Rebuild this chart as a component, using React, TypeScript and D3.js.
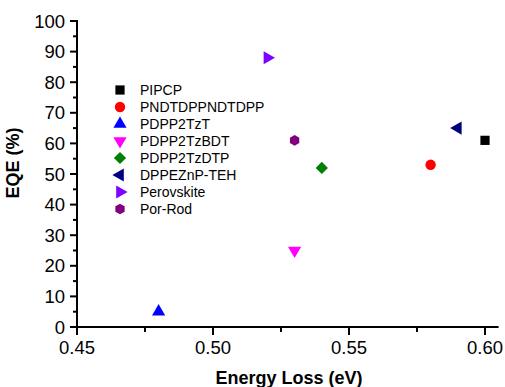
import * as d3 from "d3";

const names = [
  "PIPCP",
  "PNDTDPPNDTDPP",
  "PDPP2TzT",
  "PDPP2TzBDT",
  "PDPP2TzDTP",
  "DPPEZnP-TEH",
  "Perovskite",
  "Por-Rod",
];
const energyLoss = [0.6, 0.58, 0.48, 0.53, 0.54, 0.59, 0.52, 0.53];
const eqe = [61, 53, 5, 25, 52, 65, 88, 61];
const colors = ["#000000", "#ff0000", "#0000ff", "#ff00ff", "#008000", "#000080", "#8000ff", "#800080"];
const shapes = ["square", "circle", "up", "down", "diamond", "left", "right", "hexagon"];
const xTicks = [0.45, 0.5, 0.55, 0.6];
const yTicks = [0, 10, 20, 30, 40, 50, 60, 70, 80, 90, 100];

const hexagon = {
  draw(context: any, size: number) {
    const r = Math.sqrt((size * 2) / (3 * Math.sqrt(3)));
    for (let i = 0; i < 6; i++) {
      const a = (Math.PI / 3) * i + Math.PI / 6;
      const px = r * Math.cos(a);
      const py = r * Math.sin(a);
      if (i === 0) context.moveTo(px, py);
      else context.lineTo(px, py);
    }
    context.closePath();
  },
};

function markerPath(shape: string) {
  const sym = d3.symbol().size(shape === "circle" ? 85 : shape === "square" ? 85 : 75);
  if (shape === "square" || shape === "diamond") return { d: sym.type(d3.symbolSquare)()!, rot: shape === "diamond" ? 45 : 0 };
  if (shape === "circle") return { d: sym.type(d3.symbolCircle)()!, rot: 0 };
  if (shape === "hexagon") return { d: sym.type(hexagon as any)()!, rot: 0 };
  const rot = { up: 0, down: 180, left: -90, right: 90 }[shape] as number;
  return { d: sym.type(d3.symbolTriangle)()!, rot };
}

export default function App() {
  const width = 505;
  const height = 387;
  const left = 77;
  const bottom = 327;
  const top = 21;

  const x = d3.scaleLinear().domain([0.45, 0.6]).range([left, 485]);
  const y = d3.scaleLinear().domain([0, 100]).range([bottom, top]);
  const xEnd = x(0.605);

  const font = "Arial, 'Liberation Sans', sans-serif";

  return (
    <svg
      width={width}
      height={height}
      style={{ position: "absolute", left: 0, top: 0, background: "#fff" }}
      fontFamily={font}
    >
      {/* y axis */}
      <line x1={left} x2={left} y1={top - 1} y2={bottom + 1} stroke="#000" strokeWidth={2} />
      {d3.range(0, 101, 5).map((v) => (
        <line
          key={"yt" + v}
          x1={left - (v % 10 === 0 ? 7 : 4)}
          x2={left}
          y1={y(v)}
          y2={y(v)}
          stroke="#000"
          strokeWidth={2}
        />
      ))}
      {yTicks.map((v) => (
        <text key={"yl" + v} x={65} y={y(v)} dy="0.36em" textAnchor="end" fontSize={18.5} fill="#000">
          {v}
        </text>
      ))}
      {/* x axis */}
      <line x1={left - 1} x2={xEnd} y1={bottom} y2={bottom} stroke="#000" strokeWidth={2} />
      {d3.range(0, 7).map((i) => {
        const v = 0.45 + i * 0.025;
        const major = i % 2 === 0;
        return (
          <line
            key={"xt" + i}
            x1={x(v)}
            x2={x(v)}
            y1={bottom}
            y2={bottom + (major ? 8 : 5)}
            stroke="#000"
            strokeWidth={2}
          />
        );
      })}
      {xTicks.map((v) => (
        <text key={"xl" + v} x={x(v)} y={354} textAnchor="middle" fontSize={18.5} fill="#000">
          {v.toFixed(2)}
        </text>
      ))}
      <text x={289} y={384} textAnchor="middle" fontSize={18} fontWeight="bold" fill="#000">
        Energy Loss (eV)
      </text>
      <text
        transform={`translate(19,163) rotate(-90)`}
        textAnchor="middle"
        fontSize={18}
        fontWeight="bold"
        fill="#000"
      >
        EQE (%)
      </text>
      {/* points */}
      {names.map((n, i) => {
        const m = markerPath(shapes[i]);
        return (
          <path
            key={"p" + n}
            d={m.d}
            fill={colors[i]}
            transform={`translate(${x(energyLoss[i])},${y(eqe[i])}) rotate(${m.rot})`}
          />
        );
      })}
      {/* legend */}
      {names.map((n, i) => {
        const m = markerPath(shapes[i]);
        const ly = 90 + i * 17;
        return (
          <g key={"lg" + n}>
            <path d={m.d} fill={colors[i]} transform={`translate(120,${ly}) rotate(${m.rot})`} />
            <text x={140} y={ly} dy="0.36em" fontSize={14} fill="#000">
              {n}
            </text>
          </g>
        );
      })}
    </svg>
  );
}
